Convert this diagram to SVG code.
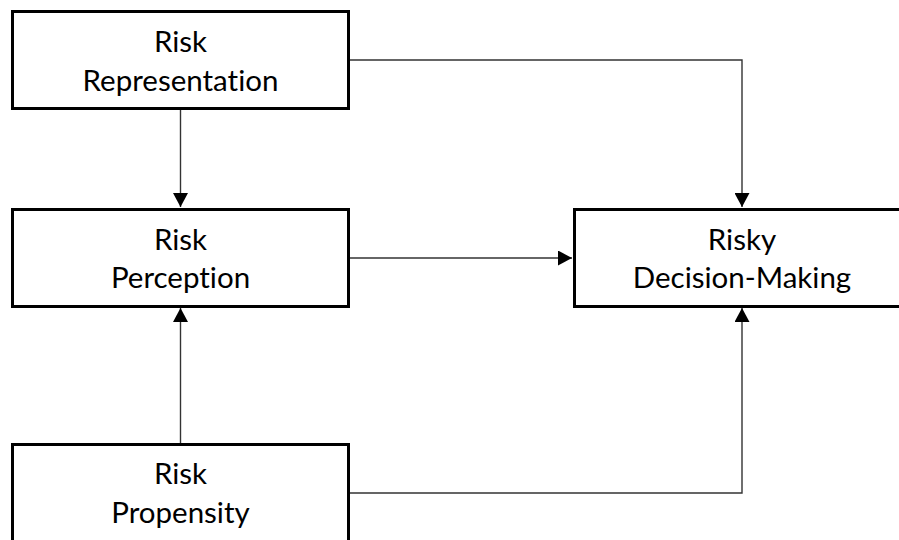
<svg xmlns="http://www.w3.org/2000/svg" width="899" height="540" viewBox="0 0 899 540">
<defs>
<style>
.box{fill:#fff;stroke:#000;stroke-width:3}
.lbl{font-family:Lato,"Open Sans","Liberation Sans",sans-serif;font-size:29.5px;fill:#000;text-anchor:middle;font-variant-ligatures:none;font-feature-settings:"liga" 0}
.con{fill:none;stroke:#333;stroke-width:1.4}
</style>
<marker id="ah" viewBox="0 0 14 15" refX="14" refY="7.5" markerWidth="14" markerHeight="15" markerUnits="userSpaceOnUse" orient="auto">
<path d="M0,0 L14,7.5 L0,15 Z" fill="#000"/>
</marker>
</defs>
<rect width="899" height="540" fill="#fff"/>
<g id="connectors">
<path class="con" d="M349,60 H742 V207" marker-end="url(#ah)"/>
<path class="con" d="M180.5,109 V207" marker-end="url(#ah)"/>
<path class="con" d="M349,258 H572" marker-end="url(#ah)"/>
<path class="con" d="M180.5,443 V308" marker-end="url(#ah)"/>
<path class="con" d="M349,493 H742 V308" marker-end="url(#ah)"/>
</g>
<g id="risk-representation">
<rect class="box" x="12.5" y="11.5" width="336" height="97"/>
<text class="lbl" x="180.5" y="52">Risk</text>
<text class="lbl" x="180.5" y="91">Representation</text>
</g>
<g id="risk-perception">
<rect class="box" x="12.5" y="209.5" width="336" height="97"/>
<text class="lbl" x="180.5" y="250">Risk</text>
<text class="lbl" x="180.5" y="288">Perception</text>
</g>
<g id="risky-decision-making">
<rect class="box" x="574.5" y="209.5" width="336" height="97"/>
<text class="lbl" x="742" y="250">Risky</text>
<text class="lbl" x="742" y="288">Decision-Making</text>
</g>
<g id="risk-propensity">
<rect class="box" x="12.5" y="444.5" width="336" height="110"/>
<text class="lbl" x="180.5" y="484">Risk</text>
<text class="lbl" x="180.5" y="523">Propensity</text>
</g>
</svg>
